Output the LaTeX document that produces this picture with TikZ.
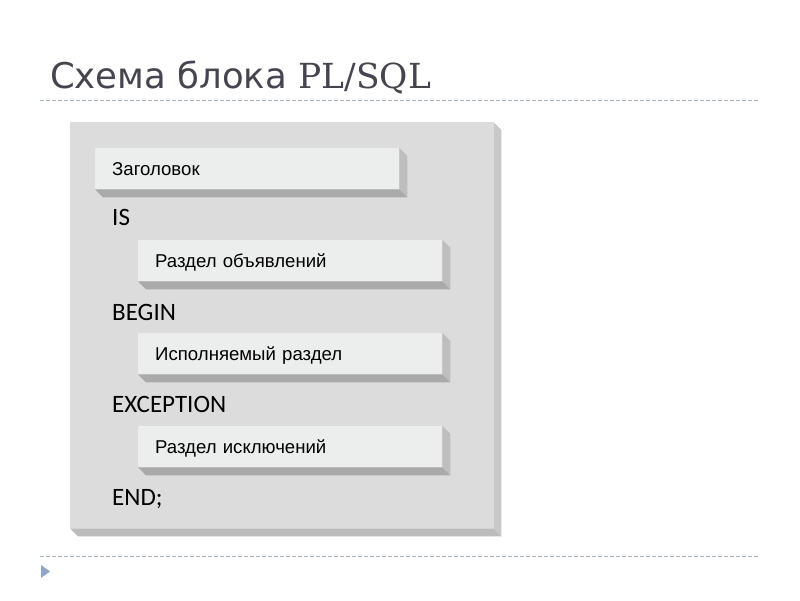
\documentclass[tikz,border=0pt]{standalone}
\usepackage{fontspec}
\usetikzlibrary{calc}

\newfontfamily\titlefont{DejaVu Sans}
\newfontfamily\sqlfont{DejaVu Serif}
\newfontfamily\boxfont{Liberation Sans}
\newfontfamily\kwfont{Carlito}

\definecolor{titlegray}{HTML}{45454F}
\definecolor{rulegray}{HTML}{A9B4C2}
\definecolor{bulletblue}{HTML}{8FA6C4}
\definecolor{panelface}{HTML}{DCDCDC}
\definecolor{panelside}{HTML}{C8C8C8}
\definecolor{panelbottom}{HTML}{BCBCBC}
\definecolor{boxface}{HTML}{ECEDED}
\definecolor{boxside}{HTML}{BEBEBE}
\definecolor{boxbottom}{HTML}{AAAAAA}

\begin{document}
\begin{tikzpicture}[x = 1pt, y = -1pt,
  sec/.style = {fill = boxface, anchor = north west, minimum height = 41pt,
    text width = 270pt, inner xsep = 17pt, align = left,
    text height = 13pt, text depth = 0pt,
    font = \boxfont\fontsize{18.6}{20}\selectfont},
  kw/.style = {anchor = base west, inner sep = 0pt,
    font = \kwfont\fontsize{25}{28}\selectfont}]
  \useasboundingbox[fill = white] (0, 0) rectangle (800, 600);

  % title and rules
  \node[anchor = base west, inner sep = 0pt, text = titlegray] (title) at (50, 88)
    {\titlefont\fontsize{35.5}{40}\selectfont Схема блока
     \sqlfont\fontsize{34.5}{40}\selectfont PL/SQL};
  \draw[rulegray, dash pattern = on 4pt off 2pt] (40, 100) -- (760, 100);
  \draw[rulegray, dash pattern = on 4pt off 2pt] (40, 556) -- (760, 556);
  \fill[bulletblue] (41, 565) -- (50, 571.5) -- (41, 578) -- cycle;

  % panel
  \node[fill = panelface, anchor = north west, inner sep = 0pt,
  minimum width = 423pt, minimum height = 406pt] (panel) at (70, 122) {};
  \fill[panelside] (panel.north east) -- ++(8, 8)
  -- ($(panel.south east) + (8, 8)$) -- (panel.south east) -- cycle;
  \fill[panelbottom] (panel.south west) -- (panel.south east)
  -- ($(panel.south east) + (8, 8)$) -- ($(panel.south west) + (8, 8)$) -- cycle;

  % sections
  \node[sec] (head) at (95, 148) {Заголовок};
  \node[sec] (decl) at (138, 240) {Раздел объявлений};
  \node[sec] (exec) at (138, 333) {Исполняемый раздел};
  \node[sec] (excp) at (138, 426) {Раздел исключений};

  \foreach \b in {head, decl, exec, excp} {
    \fill[boxside] (\b.north east) -- ++(8, 8)
    -- ($(\b.south east) + (8, 8)$) -- (\b.south east) -- cycle;
    \fill[boxbottom] (\b.south west) -- (\b.south east)
    -- ($(\b.south east) + (8, 8)$) -- ($(\b.south west) + (8, 8)$) -- cycle;
  }

  % keywords
  \node[kw] (is) at (112, 225) {IS};
  \node[kw] (begin) at (112, 320) {BEGIN};
  \node[kw] (exception) at (112, 412) {EXCEPTION};
  \node[kw] (end) at (112, 505) {END;};
\end{tikzpicture}
\end{document}
